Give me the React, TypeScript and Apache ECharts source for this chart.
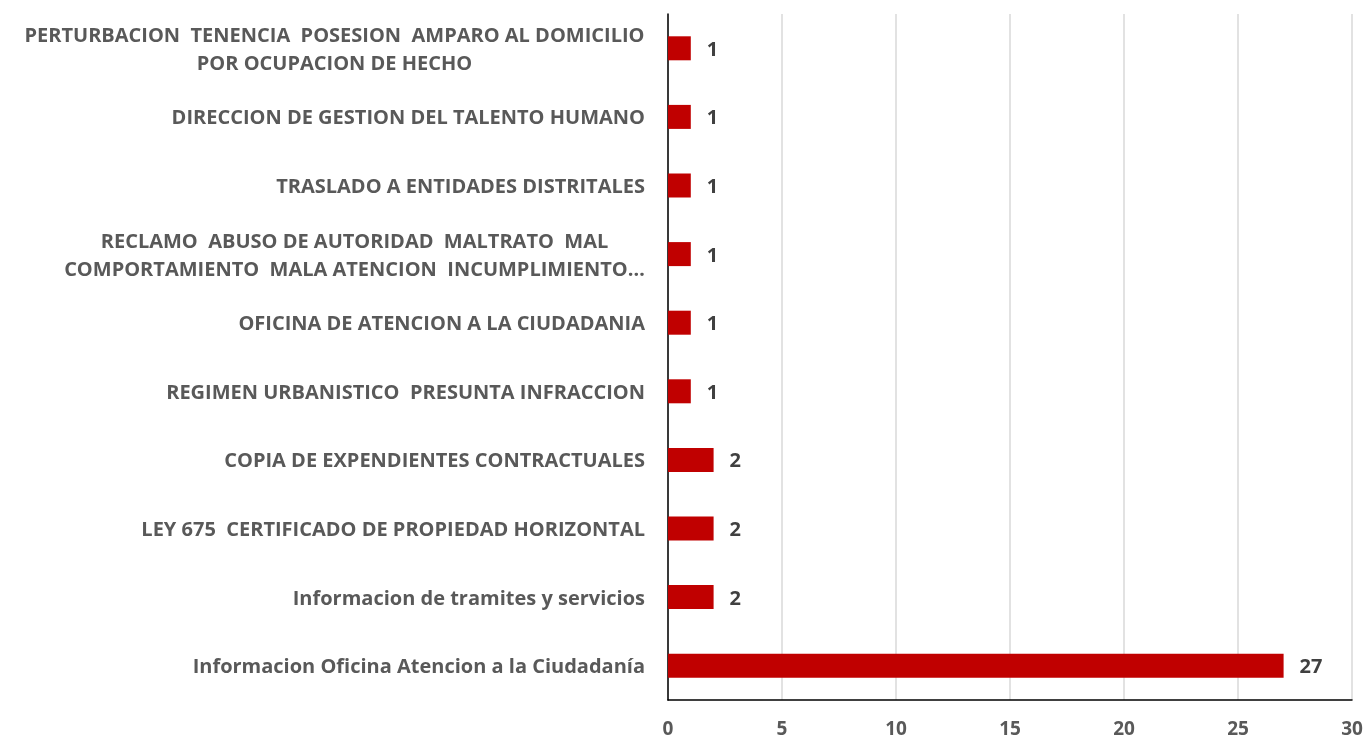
import React, { useEffect, useRef } from "react";
import * as echarts from "echarts";

const categories: string[] = [
  "Informacion Oficina Atencion a la Ciudadanía",
  "Informacion de tramites y servicios",
  "LEY 675  CERTIFICADO DE PROPIEDAD HORIZONTAL",
  "COPIA DE EXPENDIENTES CONTRACTUALES",
  "REGIMEN URBANISTICO  PRESUNTA INFRACCION",
  "OFICINA DE ATENCION A LA CIUDADANIA",
  "RECLAMO  ABUSO DE AUTORIDAD  MALTRATO  MAL\nCOMPORTAMIENTO  MALA ATENCION  INCUMPLIMIENTO…",
  "TRASLADO A ENTIDADES DISTRITALES",
  "DIRECCION DE GESTION DEL TALENTO HUMANO",
  "PERTURBACION  TENENCIA  POSESION  AMPARO AL DOMICILIO\nPOR OCUPACION DE HECHO",
];
const values: number[] = [27, 2, 2, 2, 1, 1, 1, 1, 1, 1];
const xTicks = { min: 0, max: 30, interval: 5 };

const FONT = "Open Sans";
const LABEL_SIZE = 20;

function measure(text: string): number {
  const c = document.createElement("canvas");
  const ctx = c.getContext("2d")!;
  ctx.font = `bold ${LABEL_SIZE}px "${FONT}"`;
  return ctx.measureText(text).width;
}

export default function App() {
  const ref = useRef<HTMLDivElement>(null);
  useEffect(() => {
    if (!ref.current) return;
    const chart = echarts.init(ref.current, undefined, { renderer: "svg" });
    const multi = categories.filter((c) => c.indexOf("\n") >= 0);
    const rich: Record<string, any> = {};
    multi.forEach((c, i) => {
      const w = Math.max(...c.split("\n").map(measure));
      rich["c" + i] = {
        width: Math.ceil(w),
        align: "center",
        color: "#595959",
        fontFamily: FONT,
        fontWeight: "bold",
        fontSize: LABEL_SIZE,
        lineHeight: 28,
      };
    });
    chart.setOption({
      animation: false,
      grid: { left: 668, right: 15, top: 14, bottom: 41, containLabel: false },
      xAxis: {
        type: "value",
        min: xTicks.min,
        max: xTicks.max,
        interval: xTicks.interval,
        axisLine: { show: true, lineStyle: { color: "#000", width: 1.5 } },
        axisTick: { show: false },
        splitLine: { show: true, lineStyle: { color: "#d9d9d9", width: 1.5 } },
        axisLabel: {
          margin: 18,
          color: "#595959",
          fontFamily: FONT,
          fontWeight: "bold",
          fontSize: 19,
          lineHeight: 20,
        },
      },
      yAxis: {
        type: "category",
        data: categories,
        axisLine: { show: true, lineStyle: { color: "#000", width: 1.5 } },
        axisTick: { show: false },
        splitLine: { show: false },
        axisLabel: {
          margin: 23,
          color: "#595959",
          fontFamily: FONT,
          fontWeight: "bold",
          fontSize: LABEL_SIZE,
          lineHeight: 28,
          formatter: (v: string) => {
            const idx = multi.indexOf(v);
            if (idx < 0) return v;
            return v
              .split("\n")
              .map((l) => `{c${idx}|${l}}`)
              .join("\n");
          },
          rich,
        },
      },
      series: [
        {
          type: "bar",
          data: values,
          barWidth: "35%",
          itemStyle: { color: "#c00000" },
          label: {
            show: true,
            position: "right",
            distance: 16,
            color: "#404040",
            fontFamily: FONT,
            fontWeight: "bold",
            fontSize: 20,
          },
        },
      ],
    });
    return () => chart.dispose();
  }, []);
  return (
    <div
      ref={ref}
      style={{ position: "fixed", left: 0, top: 0, width: 1367, height: 741 }}
    />
  );
}
